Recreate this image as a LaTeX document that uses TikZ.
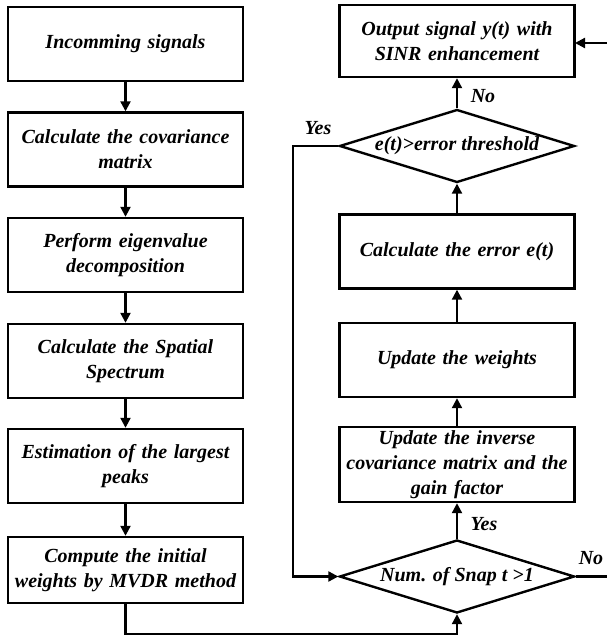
\documentclass[tikz,border=0pt]{standalone}
\usepackage{fontspec}
\setmainfont{Liberation Serif}
\usetikzlibrary{shapes.geometric,arrows.meta}
\begin{document}
\begin{tikzpicture}[x=1pt,y=-1pt,
  font=\fontsize{20}{25}\selectfont\bfseries\itshape,
  stepbox/.style={draw,line width=2.4pt,minimum width=235pt,minimum height=74pt,text width=233pt,align=center,inner sep=0pt},
  decide/.style={draw,shape=diamond,line width=2.4pt,minimum width=235pt,minimum height=73pt,inner sep=0pt},
  conn/.style={line width=2.2pt},
  arr/.style={conn,-{Triangle[length=10pt,width=10pt]}},
  lbl/.style={inner sep=0pt}]
\useasboundingbox (0,0) rectangle (607,635);
% left column
\node[stepbox] (b1) at (125.5,44) {Incomming signals};
\node[stepbox] (b2) at (125.5,149.5) {Calculate the covariance\\matrix};
\node[stepbox] (b3) at (125.5,255) {Perform eigenvalue\\decomposition};
\node[stepbox] (b4) at (125.5,361) {Calculate the Spatial\\Spectrum};
\node[stepbox] (b5) at (125.5,466) {Estimation of the largest\\peaks};
\node[stepbox,minimum height=66pt] (b6) at (125.5,570) {Compute the initial\\weights by MVDR method};
% right column
\node[stepbox,minimum height=72pt] (o) at (457,41) {Output signal \textit{y(t)} with\\SINR enhancement};
\node[decide] (d1) at (457,146) {\makebox[0pt]{e(t)>error threshold}};
\node[stepbox] (e) at (457,251.5) {Calculate the error \textit{e(t)}};
\node[stepbox] (w) at (457,360) {Update the weights};
\node[stepbox,minimum height=75pt] (u) at (457,464.5) {Update the inverse\\covariance matrix and the\\gain factor};
\node[decide] (d2) at (457,576.5) {\makebox[0pt]{Num. of Snap \textit{t} >1}};
% coordinates
\coordinate (c1) at (125.5,634);
\coordinate (c2) at (457,634);
\coordinate (c3) at (293,146);
\coordinate (c4) at (293,576.5);
\coordinate (c5) at (607,576.5);
\coordinate (c6) at (607,43);
\coordinate (c7) at (575,43);
% left chain
\draw[arr] (b1) -- (b2);
\draw[arr] (b2) -- (b3);
\draw[arr] (b3) -- (b4);
\draw[arr] (b4) -- (b5);
\draw[arr] (b5) -- (b6);
\draw[arr] (b6.south) -- (c1) -- (c2) -- (d2.south);
% right chain
\draw[arr] (d2.north) -- (u.south);
\draw[arr] (u) -- (w);
\draw[arr] (w) -- (e);
\draw[arr] (e) -- (d1.south);
\draw[arr] (d1.north) -- (o.south);
\draw[arr] (d1.west) -- (c3) -- (c4) -- (d2.west);
\draw[conn] (d2.east) -- (c5);
\draw[arr] (c6) -- (c7);
% labels
\node[lbl] (ly1) at (318,128) {Yes};
\node[lbl] (ln1) at (483,96) {No};
\node[lbl] (ly2) at (484,524) {Yes};
\node[lbl] (ln2) at (591,558) {No};
\end{tikzpicture}
\end{document}
